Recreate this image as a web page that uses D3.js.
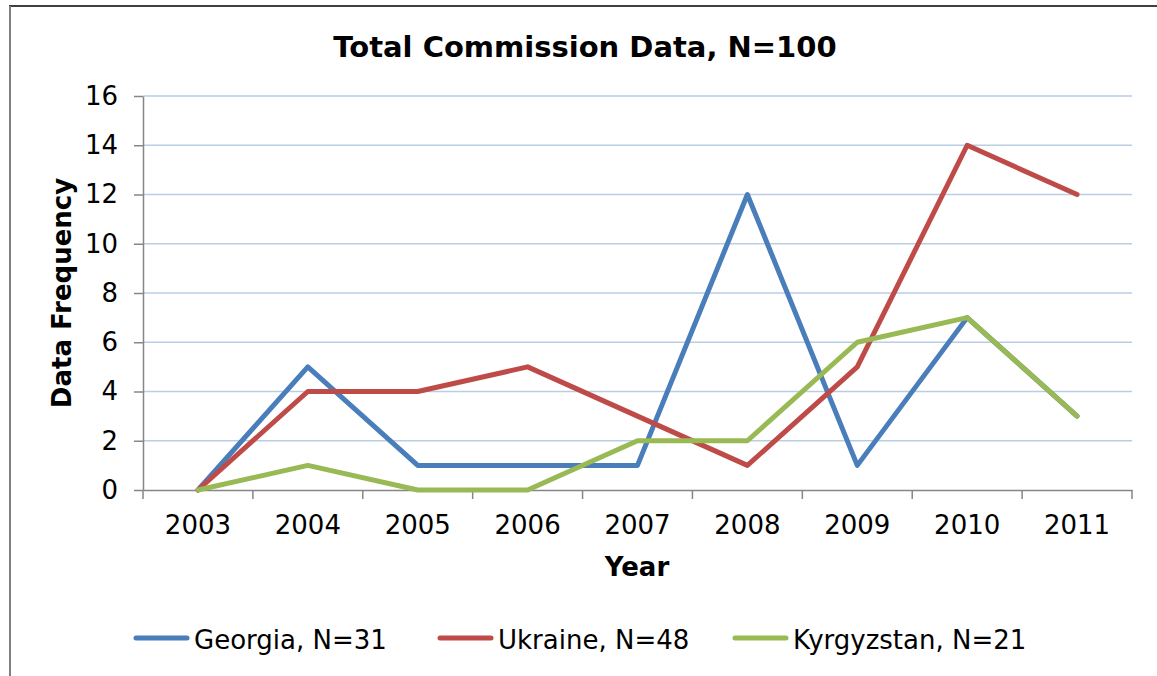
<!DOCTYPE html>
<html lang="en">
<head>
    <meta charset="UTF-8">
    <title>Total Commission Data</title>
    <style>
        html, body {
            margin: 0;
            padding: 0;
            background: #fff;
        }
        svg {
            display: block;
            font-family: "DejaVu Sans", Verdana, sans-serif;
        }
    </style>
</head>
<body>
    <div id="wrapper"></div>

    <script src="https://d3js.org/d3.v7.min.js"></script>
    <script>
        // data
        const years = ['2003', '2004', '2005', '2006', '2007', '2008', '2009', '2010', '2011'];
        const georgia = [0, 5, 1, 1, 1, 12, 1, 7, 3];
        const ukraine = [0, 4, 4, 5, 3, 1, 5, 14, 12];
        const kyrgyzstan = [0, 1, 0, 0, 2, 2, 6, 7, 3];
        const seriesNames = ['Georgia, N=31', 'Ukraine, N=48', 'Kyrgyzstan, N=21'];
        const yTicks = [0, 2, 4, 6, 8, 10, 12, 14, 16];

        const colors = ['#4a7ebb', '#be4b48', '#98b954'];
        const series = [georgia, ukraine, kyrgyzstan].map((values, i) => ({
            name: seriesNames[i],
            color: colors[i],
            values: values
        }));

        const width = 1157,
            height = 676;

        const svg = d3.select('#wrapper').append('svg')
            .attr('width', width)
            .attr('height', height);

        // outer frame (top + left visible)
        svg.append('line')
            .attr('x1', 9).attr('x2', width).attr('y1', 6).attr('y2', 6)
            .attr('stroke', '#000').attr('stroke-width', 1.5);
        svg.append('line')
            .attr('x1', 10).attr('x2', 10).attr('y1', 6).attr('y2', height)
            .attr('stroke', '#808080').attr('stroke-width', 2);

        // scales
        const xScale = d3.scaleBand()
            .domain(years)
            .range([143, 1132])
            .padding(0);

        const yScale = d3.scaleLinear()
            .domain([0, 16])
            .range([490, 96]);

        const xMid = d => xScale(d) + xScale.bandwidth() / 2;

        // gridlines
        svg.append('g')
            .selectAll('line')
            .data(yTicks.filter(d => d > 0))
            .join('line')
            .attr('x1', 143)
            .attr('x2', 1132)
            .attr('y1', d => yScale(d))
            .attr('y2', d => yScale(d))
            .attr('stroke', '#b9cde5')
            .attr('stroke-width', 1.5);

        // y axis
        const yAxis = d3.axisLeft(yScale)
            .tickValues(yTicks)
            .tickSizeOuter(0)
            .tickSizeInner(9)
            .tickPadding(16);

        const yAxisG = svg.append('g')
            .attr('transform', 'translate(143,0)')
            .call(yAxis);

        yAxisG.select('.domain').attr('stroke', '#868686').attr('stroke-width', 1.5);
        yAxisG.selectAll('.tick line').attr('stroke', '#868686').attr('stroke-width', 1.5);
        yAxisG.selectAll('.tick text')
            .attr('fill', '#000')
            .style('font-family', '"DejaVu Sans", Verdana, sans-serif')
            .style('font-size', '26px');

        // x axis (ticks sit on the band edges, like Excel)
        const xAxis = d3.axisBottom(xScale)
            .tickSizeOuter(0)
            .tickSizeInner(0)
            .tickPadding(26);

        const xAxisG = svg.append('g')
            .attr('transform', 'translate(0,490)')
            .call(xAxis);

        xAxisG.select('.domain').attr('stroke', '#868686').attr('stroke-width', 1.5);
        xAxisG.selectAll('.tick text')
            .attr('fill', '#000')
            .style('font-family', '"DejaVu Sans", Verdana, sans-serif')
            .style('font-size', '26px');

        const edges = years.map(d => xScale(d)).concat([xScale.range()[1]]);
        xAxisG.append('g')
            .selectAll('line')
            .data(edges)
            .join('line')
            .attr('x1', d => d)
            .attr('x2', d => d)
            .attr('y1', 0)
            .attr('y2', 9)
            .attr('stroke', '#868686')
            .attr('stroke-width', 1.5);

        // lines
        const line = d3.line()
            .x((d, i) => xMid(years[i]))
            .y(d => yScale(d));

        svg.append('g')
            .selectAll('path')
            .data(series)
            .join('path')
            .attr('d', d => line(d.values))
            .attr('fill', 'none')
            .attr('stroke', d => d.color)
            .attr('stroke-width', 5)
            .attr('stroke-linejoin', 'round')
            .attr('stroke-linecap', 'round');

        // title
        svg.append('text')
            .attr('x', 585)
            .attr('y', 57)
            .attr('text-anchor', 'middle')
            .style('font-size', '29px')
            .style('font-weight', 'bold')
            .text('Total Commission Data, N=100');

        // axis titles
        svg.append('text')
            .attr('x', 637)
            .attr('y', 576)
            .attr('text-anchor', 'middle')
            .style('font-size', '26px')
            .style('font-weight', 'bold')
            .text('Year');

        svg.append('text')
            .attr('transform', 'translate(71,293) rotate(-90)')
            .attr('text-anchor', 'middle')
            .style('font-size', '26px')
            .style('font-weight', 'bold')
            .text('Data Frequency');

        // legend
        const legendX = [134, 438, 733];
        const legend = svg.append('g')
            .selectAll('g')
            .data(series)
            .join('g')
            .attr('transform', (d, i) => `translate(${legendX[i]},638)`);

        legend.append('line')
            .attr('x1', 2)
            .attr('x2', 53)
            .attr('y1', 0)
            .attr('y2', 0)
            .attr('stroke', d => d.color)
            .attr('stroke-width', 5)
            .attr('stroke-linecap', 'round');

        legend.append('text')
            .attr('x', 60)
            .attr('y', 11)
            .style('font-size', '26px')
            .text(d => d.name);
    </script>
</body>
</html>
